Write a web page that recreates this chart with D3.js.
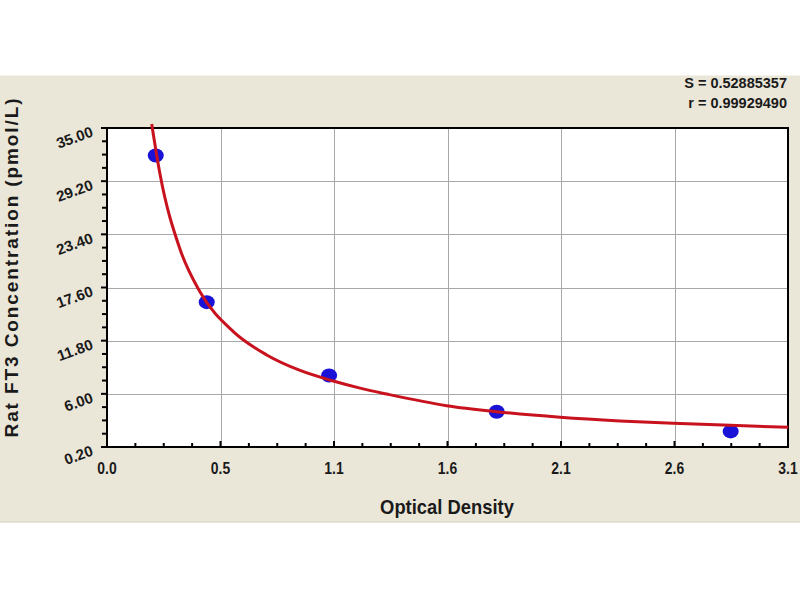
<!DOCTYPE html>
<html>
<head>
<meta charset="utf-8">
<script src="https://cdn.jsdelivr.net/npm/d3@7"></script>
<style>
  html, body { margin: 0; padding: 0; background: #ffffff; }
  svg { display: block; }
</style>
</head>
<body>
<svg id="chart" width="800" height="600"></svg>
<script>
// ---- data ----
const odValues = [0.222, 0.454, 1.011, 1.774, 2.839];
const concValues = [32.0, 16.0, 8.0, 4.05, 1.9];

const fitOD = [0.2035, 0.241, 0.332, 0.423, 0.575, 0.727, 0.879, 1.030, 1.152, 1.273, 1.546, 1.774, 2.062, 2.335, 2.578, 2.836, 3.101];
const fitConc = [35.44, 30.0, 21.8, 17.14, 12.78, 10.24, 8.55, 7.40, 6.62, 5.98, 4.71, 4.05, 3.44, 3.04, 2.79, 2.57, 2.35];

const xTickLabels = ["0.0", "0.5", "1.1", "1.6", "2.1", "2.6", "3.1"];
const yTickLabels = ["0.20", "6.00", "11.80", "17.60", "23.40", "29.20", "35.00"];

const xTitle = "Optical Density";
const yTitle = "Rat FT3 Concentration (pmol/L)";
const statLines = ["S = 0.52885357", "r = 0.99929490"];

// ---- layout ----
const svg = d3.select("#chart");
const L = 107, R = 788, T = 128, B = 447;

svg.append("rect").attr("x", 0).attr("y", 75).attr("width", 800).attr("height", 448).attr("fill", "#ebe7d8");
svg.append("line").attr("x1", 0).attr("x2", 800).attr("y1", 75.5).attr("y2", 75.5).attr("stroke", "#f4f2ea").attr("stroke-width", 1);
svg.append("line").attr("x1", 0).attr("x2", 800).attr("y1", 521.5).attr("y2", 521.5).attr("stroke", "#dcdccc").attr("stroke-width", 1);

const x = d3.scaleLinear().domain([0, 3.1]).range([L, R]);
const y = d3.scaleLinear().domain([0.2, 35.0]).range([B, T]);

const xMajor = d3.range(7).map(i => i * 3.1 / 6);
const yMajor = d3.range(7).map(i => 0.2 + i * 34.8 / 6);
const xMinor = d3.range(25).map(i => i * 3.1 / 24);
const yMinor = d3.range(25).map(i => 0.2 + i * 34.8 / 24);

// plot background
svg.append("rect").attr("x", L).attr("y", T).attr("width", R - L).attr("height", B - T).attr("fill", "#ffffff");

// grid
const g = svg.append("g");
g.selectAll(".gx").data(xMajor.slice(1, 6)).join("line")
  .attr("x1", d => Math.round(x(d)) + 0.5).attr("x2", d => Math.round(x(d)) + 0.5)
  .attr("y1", T).attr("y2", B).attr("stroke", "#a8a8a8").attr("stroke-width", 1);
g.selectAll(".gy").data(yMajor.slice(1, 6)).join("line")
  .attr("y1", d => Math.round(y(d)) + 0.5).attr("y2", d => Math.round(y(d)) + 0.5)
  .attr("x1", L).attr("x2", R).attr("stroke", "#a8a8a8").attr("stroke-width", 1);

// border
svg.append("rect").attr("x", L).attr("y", T).attr("width", R - L).attr("height", B - T)
  .attr("fill", "none").attr("stroke", "#000").attr("stroke-width", 2);

// x ticks (inside, upward)
svg.append("g").selectAll("line").data(xMinor).join("line")
  .attr("x1", d => x(d)).attr("x2", d => x(d))
  .attr("y1", B).attr("y2", (d, i) => i % 4 === 0 ? B - 6 : B - 4)
  .attr("stroke", "#000").attr("stroke-width", 2);

// y ticks (outside, leftward)
svg.append("g").selectAll("line").data(yMinor).join("line")
  .attr("y1", d => y(d)).attr("y2", d => y(d))
  .attr("x1", L).attr("x2", (d, i) => i % 4 === 0 ? L - 6 : L - 5)
  .attr("stroke", "#000").attr("stroke-width", 2);

// x tick labels (condensed bold)
svg.append("g").selectAll("text").data(xMajor).join("text")
  .attr("transform", d => `translate(${x(d)},474) scale(0.82,1)`)
  .attr("text-anchor", "middle")
  .attr("font-family", "'Liberation Sans', Arial, sans-serif")
  .attr("font-weight", "bold").attr("font-size", 17).attr("fill", "#1a1a1a")
  .text((d, i) => xTickLabels[i]);

// y tick labels (rotated)
svg.append("g").selectAll("text").data(yMajor).join("text")
  .attr("transform", d => `translate(${L - 13},${y(d) + 8}) rotate(-20)`)
  .attr("text-anchor", "end")
  .attr("font-family", "'Liberation Sans', Arial, sans-serif")
  .attr("font-weight", "bold").attr("font-size", 15).attr("fill", "#1a1a1a")
  .text((d, i) => yTickLabels[i]);

// axis titles
svg.append("text").attr("transform", "translate(447,514) scale(0.92,1)").attr("text-anchor", "middle")
  .attr("font-family", "'Liberation Sans', Arial, sans-serif").attr("font-weight", "bold")
  .attr("font-size", 20).attr("fill", "#1a1a1a").text(xTitle);

svg.append("text").attr("transform", "translate(18,267) rotate(-90)").attr("text-anchor", "middle")
  .attr("font-family", "'Liberation Sans', Arial, sans-serif").attr("font-weight", "bold")
  .attr("font-size", 19).attr("letter-spacing", 1.9).attr("fill", "#1a1a1a").text(yTitle);

// stats
svg.append("g").selectAll("text").data(statLines).join("text")
  .attr("x", 787).attr("y", (d, i) => 88 + i * 20).attr("text-anchor", "end")
  .attr("font-family", "'Liberation Sans', Arial, sans-serif").attr("font-weight", "bold")
  .attr("font-size", 14.5).attr("fill", "#1a1a1a").text(d => d);

// points
svg.append("g").selectAll("ellipse").data(odValues).join("ellipse")
  .attr("cx", d => x(d)).attr("cy", (d, i) => y(concValues[i]))
  .attr("rx", 8).attr("ry", 7).attr("fill", "#1a12d6");

// fitted curve
const fit = fitOD.map((d, i) => [d, fitConc[i]]);
svg.append("path").datum(fit)
  .attr("d", d3.line().x(d => x(d[0])).y(d => y(d[1])).curve(d3.curveMonotoneX))
  .attr("fill", "none").attr("stroke", "#c8121e").attr("stroke-width", 3);
</script>
</body>
</html>
